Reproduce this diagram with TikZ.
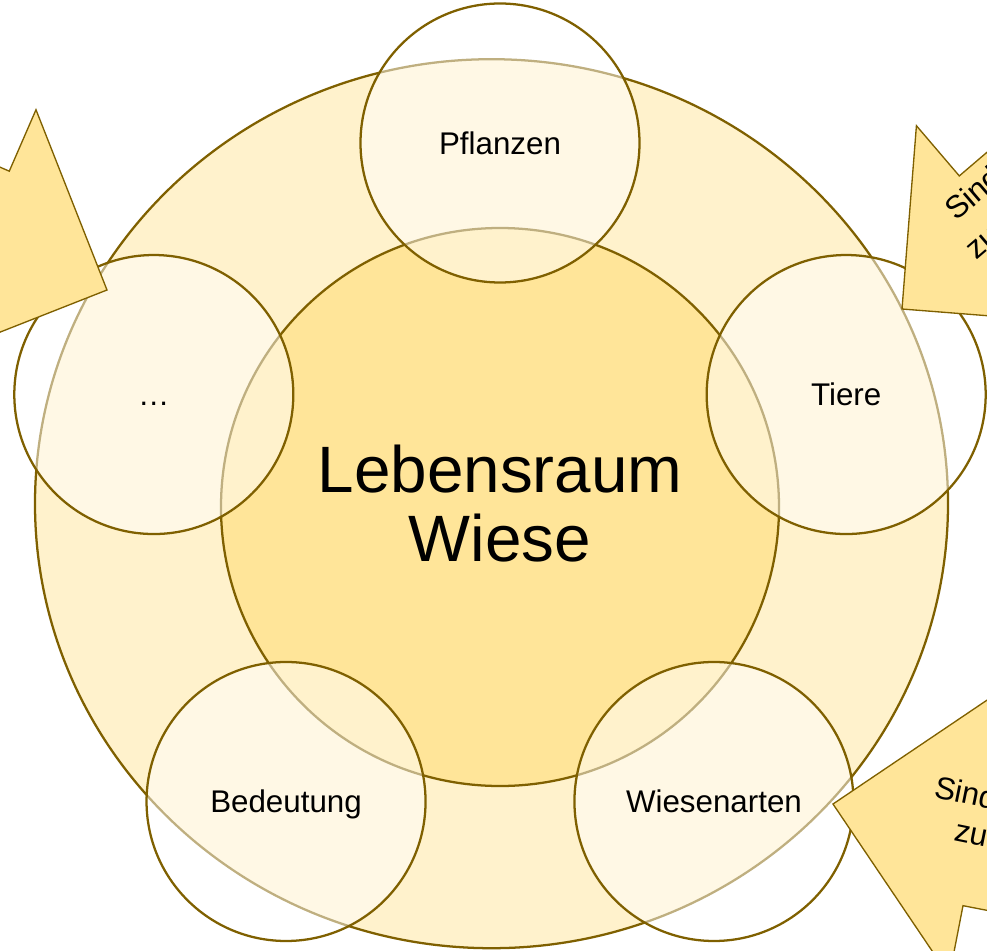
\documentclass[tikz,border=0pt]{standalone}
\usepackage{fontspec}
\setmainfont{Liberation Sans}
\definecolor{wiesenrand}{HTML}{7F6000}
\definecolor{ringcolor}{HTML}{FFF2CC}
\definecolor{kerncolor}{HTML}{FFE599}

\begin{document}
\begin{tikzpicture}[x=0.75pt, y=0.75pt,
  kreis/.style={circle, draw=wiesenrand, line width=1.7pt, fill=white, fill opacity=0.5,
    text opacity=1, minimum size=209.25pt, inner sep=0pt,
    font=\fontsize{23.5}{28}\selectfont, text height=16.9pt, text depth=0pt},
  pfeil/.style={draw=wiesenrand, line width=1pt, fill=kerncolor},
  pfeiltext/.style={anchor=base west, inner sep=0pt, font=\fontsize{23.5}{28}\selectfont}]

% =============================================================================
% RAHMEN
% =============================================================================
\useasboundingbox (-500,-443) rectangle (487,507);
\clip (-500,-443) rectangle (487,507);

% =============================================================================
% AEUSSERER RING UND KERN
% =============================================================================
\draw[wiesenrand, line width=1.7pt, fill=ringcolor] (-8.5,3.3) ellipse [x radius=456.5, y radius=444.5];
\draw[wiesenrand, line width=1.7pt, fill=kerncolor] (0,0) circle (279);

\node[font=\fontsize{49.2}{51.75}\selectfont, align=center] (thema) at (0,3) {Lebensraum\\Wiese};

% =============================================================================
% THEMENKREISE (Fuenfeck, r = 364)
% =============================================================================
\node[kreis] (pflanzen) at (90:364) {Pflanzen};
\node[kreis] (tiere) at (18:364) {Tiere};
\node[kreis] (weitere) at (162:364) {…};
\node[kreis] (bedeutung) at (234:364) {Bedeutung};
\node[kreis] (wiesenarten) at (306:364) {Wiesenarten};

% =============================================================================
% PFEILE (am Rand abgeschnitten)
% =============================================================================
% links oben
\begin{scope}[shift={(-393,217)}, rotate=156.5]
  \draw[pfeil] (0,0) -- (137,137) -- (137,70) -- (500,70) -- (500,-70) -- (137,-70) -- (137,-137) -- cycle;
\end{scope}

% rechts oben
\begin{scope}[shift={(402,198)}, rotate=40.5]
  \draw[pfeil] (0,0) -- (130,130) -- (130,64) -- (500,64) -- (500,-64) -- (130,-64) -- (130,-130) -- cycle;
\end{scope}
\node[pfeiltext, rotate=40.5] (sindoben) at (456,285) {Sind};
\node[pfeiltext, rotate=40.5] (zuoben) at (476,246) {zu};

% rechts unten
\begin{scope}[shift={(333,-297)}, rotate=-11]
  \draw[pfeil] (0,0) -- (147,147) -- (147,75) -- (500,75) -- (500,-75) -- (147,-75) -- (147,-147) -- cycle;
\end{scope}
\node[pfeiltext, rotate=-11.5] (sindunten) at (433,-290) {Sind};
\node[pfeiltext, rotate=-11.5] (zuunten) at (453,-333) {zu};

\end{tikzpicture}
\end{document}
